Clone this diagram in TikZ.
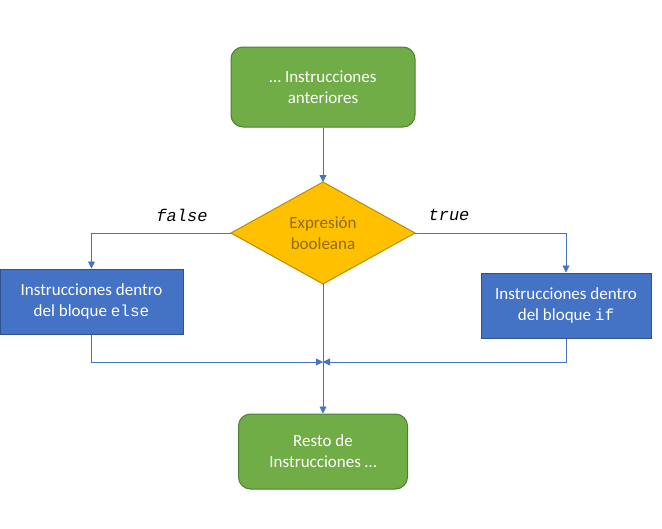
\documentclass[tikz,border=0pt]{standalone}
\usepackage{fontspec}
\setmainfont{Carlito}
\setmonofont{Liberation Mono}
\usetikzlibrary{shapes.geometric,arrows.meta}
\definecolor{grfill}{HTML}{70AD47}
\definecolor{grline}{HTML}{507E32}
\definecolor{blfill}{HTML}{4472C4}
\definecolor{blline}{HTML}{2F528F}
\definecolor{yefill}{HTML}{FFC000}
\definecolor{yeline}{HTML}{BC8C00}
\definecolor{yetext}{HTML}{8F6B00}
\definecolor{conn}{HTML}{4472C4}
\newcommand{\kw}[1]{{\fontsize{16}{21}\ttfamily #1}}
\begin{document}
\begin{tikzpicture}[x=1pt,y=-1pt,
  every node/.style={font=\fontsize{17}{21}\selectfont, align=center, inner sep=0pt},
  greenbox/.style={draw=grline, fill=grfill, text=white, rounded corners=12pt, line width=1pt},
  bluebox/.style={draw=blline, fill=blfill, text=white, line width=1pt},
  conline/.style={draw=conn, line width=0.8pt, -{Triangle[width=7pt,length=7pt]}},
  lbl/.style={font=\fontsize{17}{20}\selectfont\ttfamily\itshape}]
\useasboundingbox (0,0) rectangle (662,528);
\node[greenbox, minimum width=184pt, minimum height=80pt] (start) at (323,87) {\dots\ Instrucciones\\anteriores};
\coordinate (dtop) at (323,182);
\coordinate (dleft) at (231,233);
\coordinate (dright) at (415,233);
\coordinate (dbot) at (323,284);
\draw[draw=yeline, fill=yefill, line width=1pt] (dleft) -- (dtop) -- (dright) -- (dbot) -- cycle;
\node[text=yetext] (cond) at (323,233) {Expresión\\booleana};
\node[bluebox, minimum width=183pt, minimum height=65pt] (else) at (91.5,301.5) {Instrucciones dentro\\del bloque \kw{else}};
\node[bluebox, minimum width=170pt, minimum height=65pt] (if) at (566,305.5) {Instrucciones dentro\\del bloque \kw{if}};
\node[greenbox, minimum width=169pt, minimum height=75pt] (end) at (323,451.5) {Resto de\\Instrucciones \dots};
\coordinate (join) at (323,362);
\draw[conline] (start.south) -- (dtop);
\draw[conline] (dleft) -| (else.north);
\draw[conline] (dright) -| (if.north);
\draw[conline] (else.south) |- (join);
\draw[conline] (if.south) |- (join);
\draw[conline] (dbot) -- (end.north);
\node[lbl] (lf) at (182,215) {false};
\node[lbl] (lt) at (449,215) {true};
\end{tikzpicture}
\end{document}
